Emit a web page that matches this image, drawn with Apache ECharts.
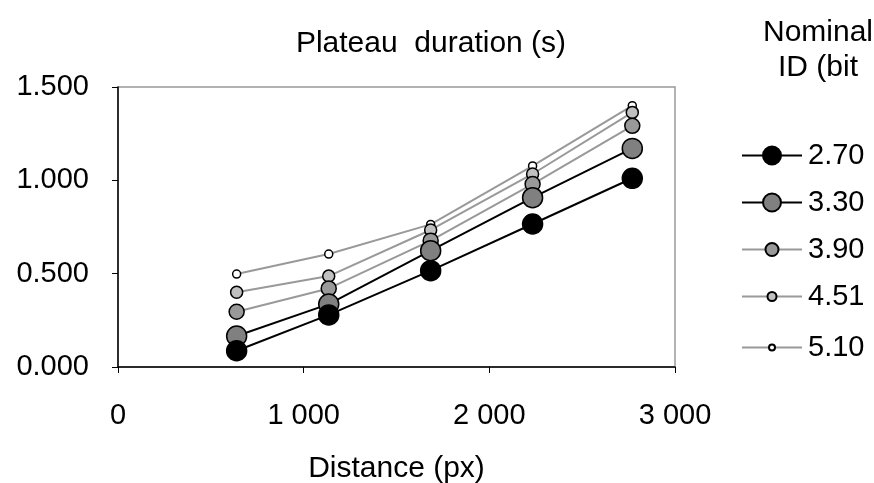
<!DOCTYPE html>
<html><head><meta charset="utf-8">
<script src="https://cdn.jsdelivr.net/npm/echarts@6/dist/echarts.min.js"></script>
<style>html,body{margin:0;padding:0;background:#fff}#c{width:874px;height:483px}</style>
</head><body><div id="c"></div>
<script>
const distances = [639, 1135, 1684, 2233, 2770];
const seriesNames = ['2.70', '3.30', '3.90', '4.51', '5.10'];
const id270 = [0.087, 0.279, 0.516, 0.766, 1.011];
const id330 = [0.166, 0.337, 0.623, 0.907, 1.171];
const id390 = [0.296, 0.421, 0.677, 0.980, 1.292];
const id451 = [0.400, 0.487, 0.734, 1.034, 1.364];
const id510 = [0.498, 0.605, 0.764, 1.077, 1.400];
const yTicks = [0, 0.5, 1.0, 1.5];
const xTicks = [0, 1000, 2000, 3000];

const values = [id270, id330, id390, id451, id510];
const fills = ['#000000', '#808080', '#999999', '#c0c0c0', '#ffffff'];
const lineColors = ['#000000', '#000000', '#999999', '#999999', '#999999'];
const symSizes = [20, 20, 15, 12, 8];
const legSym = [18, 18, 13, 9, 6];
const F = 'Liberation Sans, Arial, sans-serif';

const chart = echarts.init(document.getElementById('c'));
const series = seriesNames.map((n, i) => ({
  name: n, type: 'line',
  data: distances.map((d, k) => [d, values[i][k]]),
  symbol: 'circle', symbolSize: symSizes[i],
  lineStyle: { color: lineColors[i], width: 2 },
  itemStyle: { color: fills[i], borderColor: '#000', borderWidth: 1.5 },
  z: 10 - i,
  animation: false
}));
const legendY = [155, 202, 249, 296, 347];
const legends = seriesNames.map((n, i) => {
  const h = legSym[i] / 0.8;
  return {
    data: [n], left: 741, top: legendY[i] - 14,
    itemWidth: 60, itemHeight: h, itemGap: 0,
    textStyle: { fontFamily: F, fontSize: 29, color: '#000', padding: [0, 0, 0, 1] },
    padding: 0, selectedMode: false
  };
});
chart.setOption({
  animation: false,
  title: [
    { text: 'Plateau  duration (s)', left: 426, top: 24, textAlign: 'center',
      textStyle: { fontFamily: F, fontSize: 30, fontWeight: 'normal', color: '#000' } },
    { text: 'Nominal\nID (bit', left: 813, top: 10, textAlign: 'center',
      textStyle: { fontFamily: F, fontSize: 30, fontWeight: 'normal', color: '#000', lineHeight: 35, align: 'center' } }
  ],
  grid: { left: 118, right: 199, top: 87, bottom: 116, show: true, borderColor: '#999', borderWidth: 1.5,
    outerBoundsMode: 'none', containLabel: false },
  legend: legends,
  xAxis: {
    type: 'value', min: xTicks[0], max: xTicks[xTicks.length - 1], interval: 1000,
    name: 'Distance (px)', nameLocation: 'middle', nameGap: 87,
    nameTextStyle: { fontFamily: F, fontSize: 30, color: '#000' },
    axisLine: { show: true, lineStyle: { color: '#000', width: 1.5 } },
    axisTick: { show: true, length: 6, lineStyle: { color: '#000' } },
    splitLine: { show: false },
    axisLabel: { fontFamily: F, fontSize: 29, color: '#000', margin: 34,
      formatter: v => v === 0 ? '0' : String(v).replace(/\B(?=(\d{3})+(?!\d))/g, ' ') }
  },
  yAxis: {
    type: 'value', min: yTicks[0], max: yTicks[yTicks.length - 1], interval: 0.5,
    axisLine: { show: true, lineStyle: { color: '#000', width: 1.5 } },
    axisTick: { show: true, length: 6, lineStyle: { color: '#000' } },
    splitLine: { show: false },
    axisLabel: { fontFamily: F, fontSize: 29, color: '#000', margin: 29,
      formatter: v => v.toFixed(3) }
  },
  series: series
});
</script></body></html>
